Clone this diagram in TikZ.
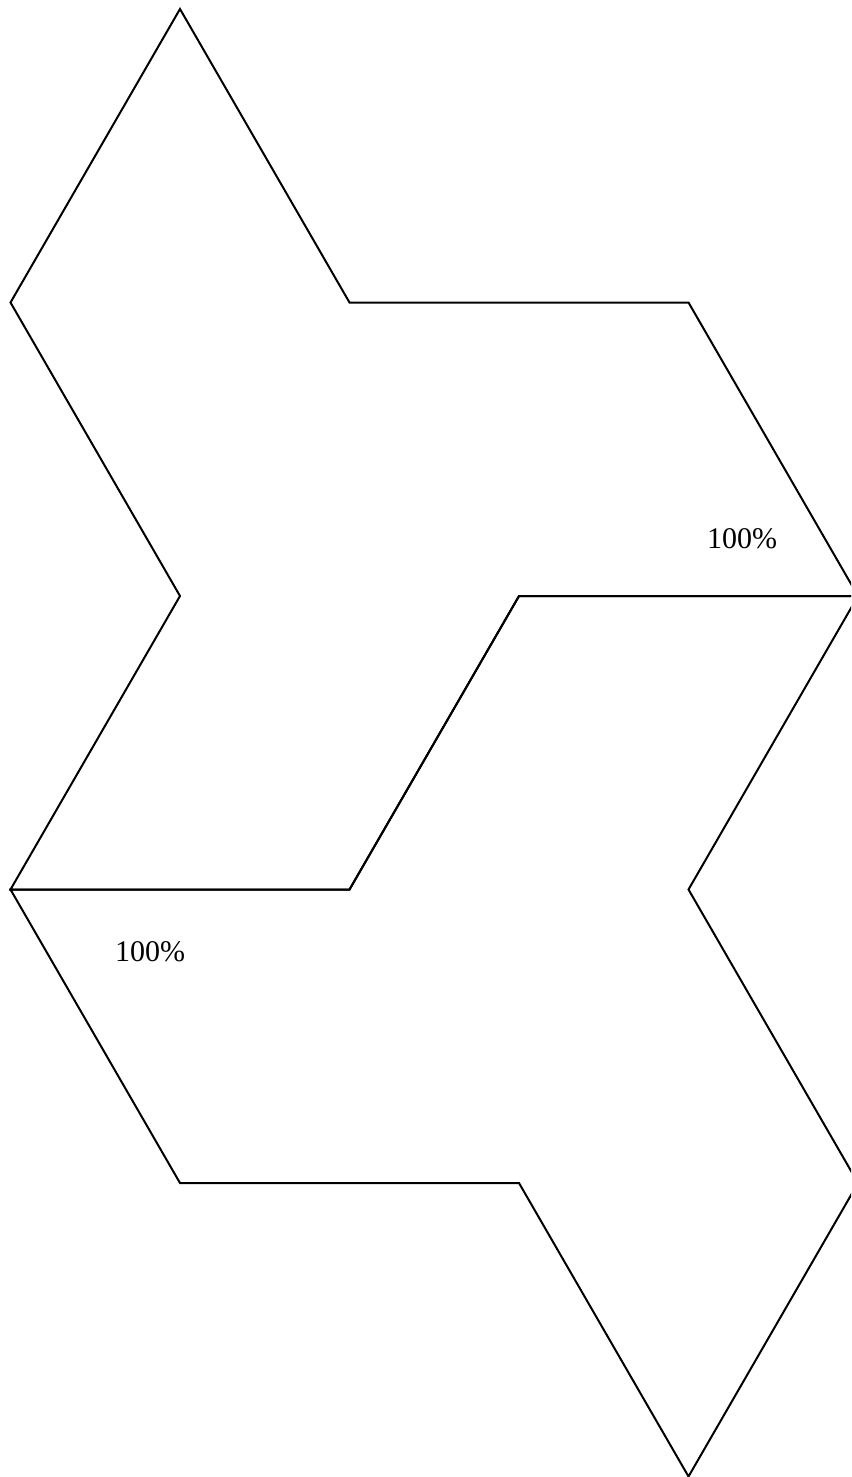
\documentclass[tikz,border=0pt]{standalone}
\usepackage{fontspec}
\setmainfont{Liberation Serif}
\begin{document}
\begin{tikzpicture}[x=1pt,y=-1pt,
  outline/.style={draw=black,line width=2pt,line join=miter},
  pct/.style={font=\fontsize{30}{34}\selectfont,inner sep=0pt}]
\useasboundingbox (0,0) rectangle (851,1477);
\clip (0,0) rectangle (851,1477);
\begin{scope}[shift={(10.5,9)},x=169.5pt,y=-293.5pt]
\draw[outline] (1,0) -- (2,1) -- (4,1) -- (5,2) -- (3,2) -- (2,3) -- (0,3) -- (1,2) -- (0,1) -- cycle;
\draw[outline] (3,2) -- (5,2) -- (4,3) -- (5,4) -- (4,5) -- (3,4) -- (1,4) -- (0,3) -- (2,3) -- cycle;
\end{scope}
\node[pct] (l1) at (742,539) {100\%};
\node[pct] (l2) at (150,952) {100\%};
\end{tikzpicture}
\end{document}
